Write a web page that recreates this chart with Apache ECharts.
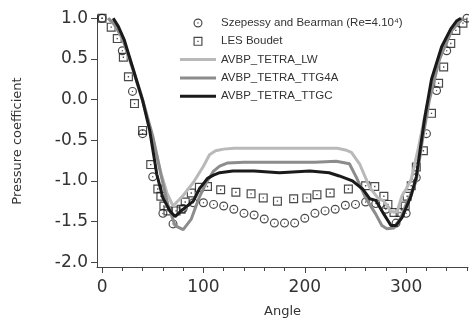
<!DOCTYPE html>
<html>
<head>
<meta charset="utf-8">
<script src="https://cdn.jsdelivr.net/npm/echarts@6/dist/echarts.min.js"></script>
<style>
  html, body { margin: 0; padding: 0; background: #fff; }
  #chart { width: 469px; height: 327px; }
</style>
</head>
<body>
<div id="chart"></div>
<script>
// Szepessy and Bearman measurements (circles)
const expAngle = [0, 20, 30, 40, 50, 60, 70, 80, 90, 100, 110, 120, 130, 140, 150, 160, 170, 180,
  190, 200, 210, 220, 230, 240, 250, 260, 270, 280, 290, 300, 310, 320, 330, 340, 360]
const expCp = [1.0, 0.6, 0.1, -0.42, -0.95, -1.40, -1.53, -1.34, -1.27, -1.27, -1.29, -1.31, -1.35, -1.40, -1.42, -1.47, -1.52, -1.52,
  -1.52, -1.46, -1.40, -1.37, -1.35, -1.30, -1.29, -1.26, -1.28, -1.35, -1.52, -1.40, -0.96, -0.42, 0.11, 0.6, 1.0]

// LES Boudet (squares)
const lesAngle = [0, 9, 15, 21, 26, 32, 40, 48, 55, 58, 61, 65, 73, 78, 82, 88, 96, 104, 117, 132, 147, 159, 173,
  189, 202, 212, 225, 243, 260, 269, 278, 282, 288, 294, 299, 301, 305, 310, 317, 325, 332, 337, 344, 349, 356]
const lesCp = [1.0, 0.89, 0.75, 0.52, 0.28, -0.05, -0.38, -0.8, -1.1, -1.19, -1.31, -1.37, -1.37, -1.35, -1.26, -1.15, -1.08, -1.07, -1.11, -1.14, -1.16, -1.21, -1.25,
  -1.22, -1.21, -1.17, -1.15, -1.10, -1.06, -1.07, -1.19, -1.29, -1.39, -1.39, -1.31, -1.19, -1.06, -0.83, -0.63, -0.17, 0.2, 0.40, 0.69, 0.85, 0.94]

// AVBP_TETRA_LW
const lwAngle = [6, 12, 20, 30, 40, 50, 58, 64, 70, 80, 90, 96, 100, 106, 112, 120, 130, 150, 180, 210, 232, 240, 246, 254,
  264, 272, 278, 285, 291, 296, 300, 305, 312, 320, 330, 340, 350, 356]
const lwCp = [1.0, 0.92, 0.75, 0.38, -0.02, -0.48, -0.9, -1.15, -1.31, -1.18, -1.02, -0.9, -0.82, -0.68, -0.63, -0.61, -0.60, -0.60, -0.60, -0.60, -0.60, -0.62, -0.65, -0.79,
  -1.08, -1.21, -1.25, -1.38, -1.38, -1.18, -1.1, -0.98, -0.6, -0.1, 0.4, 0.75, 0.95, 1.0]

// AVBP_TETRA_TTG4A
const tgAngle = [6, 12, 20, 30, 40, 50, 58, 65, 72, 80, 88, 96, 103, 110, 116, 124, 140, 175, 210, 231, 244, 251,
  260, 270, 276, 281, 288, 295, 300, 305, 310, 316, 323, 333, 345, 356]
const tgCp = [1.0, 0.93, 0.76, 0.4, 0.0, -0.45, -0.92, -1.3, -1.55, -1.6, -1.47, -1.2, -1.02, -0.88, -0.82, -0.78, -0.77, -0.77, -0.77, -0.76, -0.79, -0.96,
  -1.21, -1.41, -1.55, -1.59, -1.58, -1.45, -1.29, -1.15, -1.0, -0.5, 0.0, 0.5, 0.85, 1.0]

// AVBP_TETRA_TTGC
const tcAngle = [11, 16, 22, 30, 40, 47, 54, 60, 67, 72, 78, 90, 96, 104, 110, 116, 129, 150, 175, 205, 224, 234, 247,
  257, 264, 270, 278, 285, 290, 296, 305, 310, 314, 318, 325, 335, 344, 350, 354]
const tcCp = [1.0, 0.9, 0.73, 0.4, -0.01, -0.38, -0.92, -1.21, -1.37, -1.44, -1.37, -1.25, -1.1, -0.97, -0.93, -0.9, -0.88, -0.88, -0.9, -0.88, -0.9, -0.94, -1.0,
  -1.1, -1.22, -1.24, -1.41, -1.55, -1.55, -1.45, -1.18, -0.95, -0.6, -0.25, 0.25, 0.65, 0.87, 0.97, 1.0]

const xLabels = [0, 100, 200, 300]
const xMinor = [20, 40, 60, 80, 120, 140, 160, 180, 220, 240, 260, 280, 320, 340, 360]
const yLabels = [-2, -1.5, -1, -0.5, 0, 0.5, 1]

const zip = (xs, ys) => xs.map((x, i) => [x, ys[i]])

// ring with a center dot, and a square with a center dot
const circleDot = 'path://M0,10 A10,10 0 1,1 20,10 A10,10 0 1,1 0,10 Z M2.6,10 A7.4,7.4 0 1,0 17.4,10 A7.4,7.4 0 1,0 2.6,10 Z M8.5,10 A1.5,1.5 0 1,1 11.5,10 A1.5,1.5 0 1,1 8.5,10 Z'
const squareDot = 'path://M0,0 H20 V20 H0 Z M2.6,2.6 V17.4 H17.4 V2.6 Z M8.5,8.5 H11.5 V11.5 H8.5 Z'
// plain line sample for the legend, no symbol on it
const lineIcon = 'path://M0,0 H36 V3 H0 Z'

const font = 'DejaVu Sans'
const axisColor = '#444'

const chart = echarts.init(document.getElementById('chart'))
chart.setOption({
  animation: false,
  textStyle: {fontFamily: font},
  grid: {left: 97, top: 15, right: 1, bottom: 60, containLabel: false},
  legend: {
    left: 175,
    top: 12,
    orient: 'vertical',
    itemWidth: 36,
    itemHeight: 9,
    itemGap: 6.3,
    textStyle: {fontFamily: 'Liberation Sans', fontSize: 11.5, color: '#333'},
    data: [
      {name: 'Szepessy and Bearman (Re=4.10⁴)'},
      {name: 'LES Boudet'},
      {name: 'AVBP_TETRA_LW', icon: lineIcon},
      {name: 'AVBP_TETRA_TTG4A', icon: lineIcon},
      {name: 'AVBP_TETRA_TTGC', icon: lineIcon},
    ],
  },
  xAxis: [
    {
      type: 'value',
      min: -5,
      max: 361,
      name: 'Angle',
      nameLocation: 'middle',
      nameGap: 38,
      nameTextStyle: {fontSize: 13, color: '#333', fontFamily: font},
      axisLine: {show: true, onZero: false, lineStyle: {color: axisColor, width: 1}},
      axisTick: {show: true, length: 6, customValues: xLabels, lineStyle: {color: axisColor}},
      axisLabel: {customValues: xLabels, fontSize: 17, color: '#333', margin: 12},
      splitLine: {show: false},
    },
    {
      type: 'value',
      min: -5,
      max: 361,
      position: 'bottom',
      axisLine: {show: false, onZero: false},
      axisTick: {show: true, length: 4, customValues: xMinor, lineStyle: {color: axisColor}},
      axisLabel: {show: false},
      splitLine: {show: false},
    },
  ],
  yAxis: {
    type: 'value',
    min: -2.06,
    max: 1.04,
    name: 'Pressure coefficient',
    nameLocation: 'middle',
    nameGap: 73,
    nameTextStyle: {fontSize: 13, color: '#333', fontFamily: font},
    axisLine: {show: true, onZero: false, lineStyle: {color: axisColor, width: 1}},
    axisTick: {show: true, length: 6, customValues: yLabels, lineStyle: {color: axisColor}},
    axisLabel: {customValues: yLabels, fontSize: 17, color: '#333', margin: 9, formatter: v => v.toFixed(1)},
    splitLine: {show: false},
  },
  series: [
    {
      name: 'Szepessy and Bearman (Re=4.10⁴)',
      type: 'scatter',
      symbol: circleDot,
      symbolSize: 9,
      itemStyle: {color: '#1a1a1a'},
      data: zip(expAngle, expCp),
    },
    {
      name: 'LES Boudet',
      type: 'scatter',
      symbol: squareDot,
      symbolSize: 9,
      itemStyle: {color: '#1a1a1a'},
      data: zip(lesAngle, lesCp),
    },
    {
      name: 'AVBP_TETRA_LW',
      type: 'line',
      symbol: 'none',
      lineStyle: {color: '#b9b9b9', width: 3},
      itemStyle: {color: '#b9b9b9'},
      data: zip(lwAngle, lwCp),
    },
    {
      name: 'AVBP_TETRA_TTG4A',
      type: 'line',
      symbol: 'none',
      lineStyle: {color: '#8c8c8c', width: 3},
      itemStyle: {color: '#8c8c8c'},
      data: zip(tgAngle, tgCp),
    },
    {
      name: 'AVBP_TETRA_TTGC',
      type: 'line',
      symbol: 'none',
      lineStyle: {color: '#1a1a1a', width: 3},
      itemStyle: {color: '#1a1a1a'},
      data: zip(tcAngle, tcCp),
    },
  ],
})
</script>
</body>
</html>
